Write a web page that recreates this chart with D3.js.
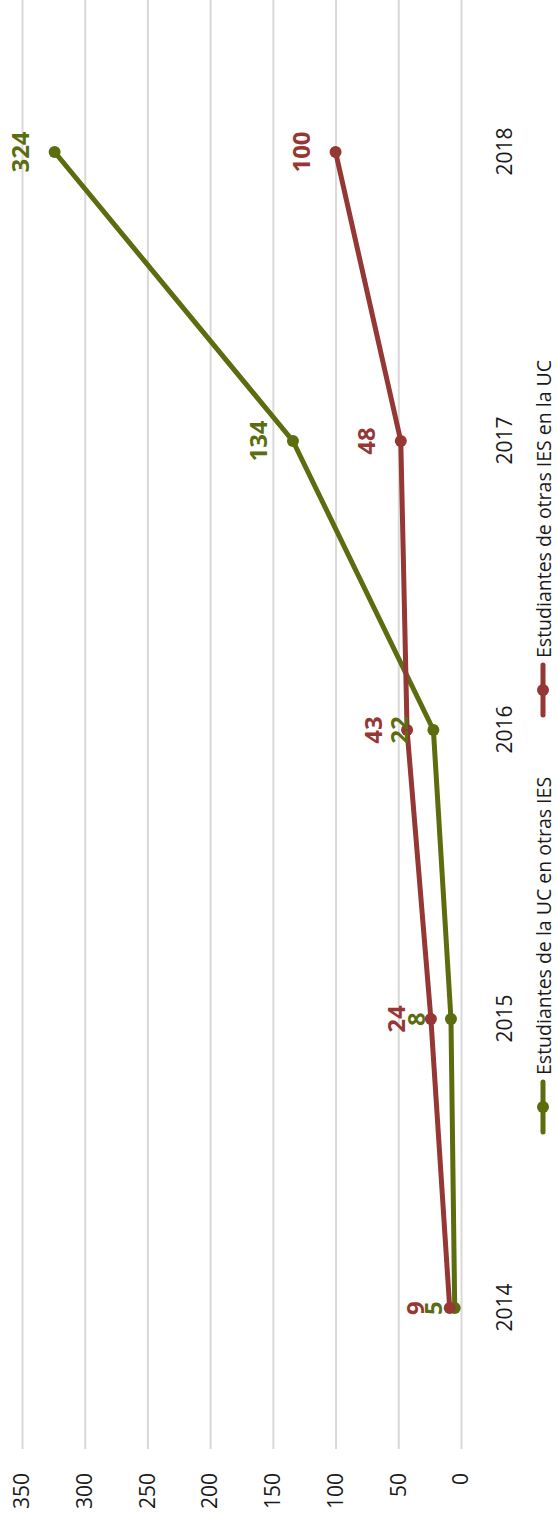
<!DOCTYPE html>
<html>
<head>
<meta charset="utf-8">
<script src="https://cdn.jsdelivr.net/npm/d3@7"></script>
<style>
  html, body { margin: 0; padding: 0; background: #fff; }
  svg { display: block; font-family: "Open Sans", sans-serif; }
</style>
</head>
<body>
<div id="chart"></div>
<script>
var years = ['2014', '2015', '2016', '2017', '2018'];
var ucEnOtras = [5, 8, 22, 134, 324];
var otrasEnUc = [9, 24, 43, 48, 100];
var seriesNames = ['Estudiantes de la UC en otras IES', 'Estudiantes de otras IES en la UC'];
var seriesColors = ['#5b6d0f', '#953735'];
var valueTicks = [0, 50, 100, 150, 200, 250, 300, 350];

// the chart is drawn landscape (1515 x 557) and then turned a quarter to fit the page
var W = 1515, H = 557;
var svg = d3.select('#chart').append('svg').attr('width', H).attr('height', W);
var g = svg.append('g').attr('transform', 'translate(0,' + W + ') rotate(-90)');

var x = d3.scalePoint().domain(years).range([207, 1363]);
var y = d3.scaleLinear().domain([0, 350]).range([461, 22]);

// value gridlines + labels
var yAxis = d3.axisLeft(y).tickValues(valueTicks).tickSize(-(W - 66)).tickPadding(24);
var ya = g.append('g').attr('transform', 'translate(66,0)').call(yAxis);
ya.select('.domain').remove();
ya.selectAll('line').attr('stroke', '#d9d9d9').attr('stroke-width', 2);
ya.selectAll('text').attr('font-size', 21).attr('fill', '#1a1a1a').attr('font-family', '"Open Sans", sans-serif');

// year labels
var xAxis = d3.axisBottom(x).tickSize(0).tickPadding(0);
var xa = g.append('g').attr('transform', 'translate(0,497)').call(xAxis);
xa.select('.domain').remove();
xa.selectAll('text').attr('font-size', 21).attr('fill', '#1a1a1a').attr('font-family', '"Open Sans", sans-serif');

var series = [ucEnOtras, otrasEnUc];
var line = d3.line().x(function (d, i) { return x(years[i]); }).y(function (d) { return y(d); });

series.forEach(function (vals, s) {
   g.append('path').datum(vals).attr('d', line).attr('fill', 'none')
      .attr('stroke', seriesColors[s]).attr('stroke-width', 5)
      .attr('stroke-linejoin', 'round').attr('stroke-linecap', 'round');
   g.selectAll('circle.s' + s).data(vals).enter().append('circle')
      .attr('class', 's' + s)
      .attr('cx', function (d, i) { return x(years[i]); })
      .attr('cy', function (d) { return y(d); })
      .attr('r', 6).attr('fill', seriesColors[s]);
});

// data labels above the points (the first green one sits a bit lower, as in the original)
series.forEach(function (vals, s) {
   g.selectAll('text.lab' + s).data(vals).enter().append('text')
      .attr('class', 'lab' + s)
      .attr('x', function (d, i) { return x(years[i]); })
      .attr('y', function (d, i) { return y(d) - 35 + (s === 0 && i === 0 ? 13 : 0); })
      .attr('text-anchor', 'middle').attr('dominant-baseline', 'central')
      .attr('font-size', 24).attr('font-weight', 'bold')
      .attr('fill', seriesColors[s])
      .text(function (d) { return d; });
});

// legend
var legendX = [383, 800];
seriesNames.forEach(function (name, s) {
   var lg = g.append('g').attr('transform', 'translate(' + legendX[s] + ',543)');
   lg.append('line').attr('x1', 0).attr('x2', 50).attr('y1', 0).attr('y2', 0)
      .attr('stroke', seriesColors[s]).attr('stroke-width', 5).attr('stroke-linecap', 'round');
   lg.append('circle').attr('cx', 25).attr('cy', 0).attr('r', 6).attr('fill', seriesColors[s]);
   lg.append('text').attr('x', 57).attr('y', 0).attr('dominant-baseline', 'central')
      .attr('font-size', 19.5).attr('fill', '#1a1a1a').text(name);
});
</script>
</body>
</html>
